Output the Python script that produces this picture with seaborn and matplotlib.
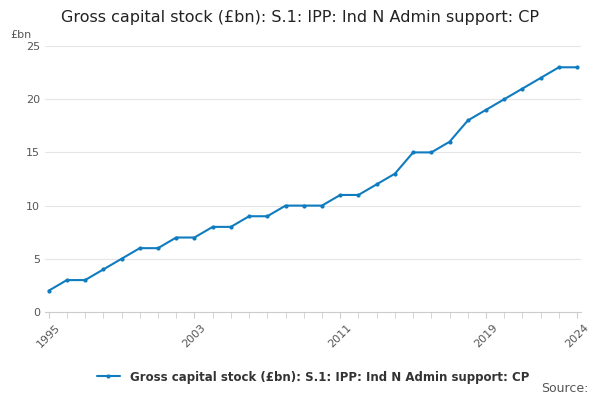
import matplotlib
matplotlib.use("Agg")
import matplotlib.pyplot as plt
import seaborn as sns
import pandas as pd

years = list(range(1995, 2025))
values = [2, 3, 3, 4, 5, 6, 6, 7, 7, 8, 8, 9, 9, 10, 10, 10, 11, 11, 12, 13,
          15, 15, 16, 18, 19, 20, 21, 22, 23, 23]
label_years = [1995, 2003, 2011, 2019, 2024]
series_name = "Gross capital stock (£bn): S.1: IPP: Ind N Admin support: CP"

sns.set_style("white")
plt.rcParams["font.family"] = ["DejaVu Sans"]

df = pd.DataFrame({"year": years, "value": values})

fig = plt.figure(figsize=(6, 4), dpi=100)
ax = fig.add_axes([0.075, 0.22, 0.893, 0.665])
sns.lineplot(data=df, x="year", y="value", ax=ax, color="#0f7cc0",
             linewidth=1.5, marker="o", markersize=3, markeredgewidth=0,
             label=series_name)

ax.set_xlim(1994.8, 2024.2)
ax.set_ylim(0, 25)
ax.set_yticks(range(0, 26, 5))
ax.set_xticks(years, minor=True)
ax.set_xticks(label_years)
ax.set_xticklabels([str(y) for y in label_years], rotation=45, fontsize=8, color="#555555")
ax.tick_params(axis="y", labelsize=8, colors="#555555", length=0)
ax.tick_params(axis="x", which="both", length=4, color="#cccccc", bottom=True)
ax.grid(axis="y", color="#e5e5e5", linewidth=0.8)
for s in ["top", "right", "left"]:
    ax.spines[s].set_visible(False)
ax.spines["bottom"].set_color("#cccccc")
ax.set_xlabel("")
ax.set_ylabel("")
ax.text(-0.065, 1.03, "£bn", transform=ax.transAxes, fontsize=8, color="#555555")

fig.suptitle("Gross capital stock (£bn): S.1: IPP: Ind N Admin support: CP",
             x=0.5, y=0.975, fontsize=11.5, color="#222222")
ax.legend(loc="upper center", bbox_to_anchor=(0.5, -0.18), frameon=False,
          prop={"size": 8.5, "weight": "bold"}, labelcolor="#333333")
fig.text(0.98, 0.02, "Source:", ha="right", fontsize=9, color="#555555")

fig.savefig("out.png", dpi=100)
